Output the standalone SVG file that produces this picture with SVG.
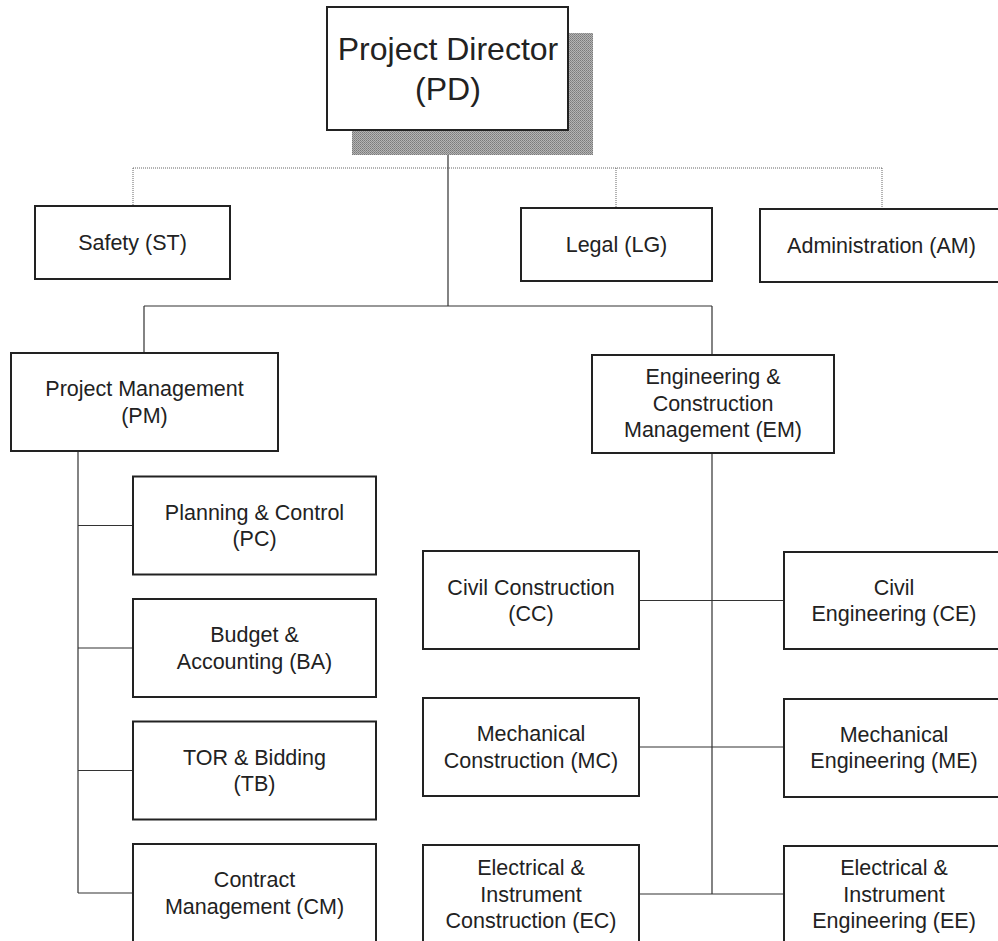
<svg xmlns="http://www.w3.org/2000/svg" width="998" height="941" viewBox="0 0 998 941">
<defs>
<pattern id="dots" width="2" height="2" patternUnits="userSpaceOnUse">
<rect width="2" height="2" fill="#b4b4b4"/>
<rect width="1" height="1" fill="#7a7a7a"/>
<rect x="1" y="1" width="1" height="1" fill="#8a8a8a"/>
</pattern>
</defs>
<style>
.box{fill:#fff;stroke:#222;stroke-width:2}
.t{font-family:"Liberation Sans",Arial,sans-serif;font-size:21.5px;fill:#222;text-anchor:middle}
.big{font-size:32px}
.c{fill:none;stroke:#333;stroke-width:1.2}
.d{fill:none;stroke:#666;stroke-width:1;stroke-dasharray:1 1}
</style>
<rect width="998" height="941" fill="#fff"/>
<g id="connectors">
<path class="d" d="M133 168H882M133 168V206M616 168V208M882 168V209"/>
<path class="c" d="M448 130V306M144 306H712M144 306V353M712 306V355"/>
<path class="c" d="M78 451V893M78 525.5H133M78 648H133M78 770.5H133M78 893H133"/>
<path class="c" d="M712 453V894M639 600.5H784M639 747H784M639 894H784"/>
</g>
<g id="PD">
<rect x="352" y="33" width="241" height="122" fill="url(#dots)"/>
<rect class="box" x="327" y="7" width="241" height="123"/>
<text class="t big" x="448" y="60">Project Director</text>
<text class="t big" x="448" y="100">(PD)</text>
</g>
<g id="ST">
<rect class="box" x="35" y="206" width="195" height="73"/>
<text class="t" x="132.5" y="250">Safety (ST)</text>
</g>
<g id="LG">
<rect class="box" x="521" y="208" width="191" height="73"/>
<text class="t" x="616.5" y="252">Legal (LG)</text>
</g>
<g id="AM">
<rect class="box" x="760" y="209" width="243" height="73"/>
<text class="t" x="881.5" y="253">Administration (AM)</text>
</g>
<g id="PM">
<rect class="box" x="11" y="353" width="267" height="98"/>
<text class="t" x="144.5" y="396">Project Management</text>
<text class="t" x="144.5" y="422.5">(PM)</text>
</g>
<g id="EM">
<rect class="box" x="592" y="355" width="242" height="98"/>
<text class="t" x="713" y="384">Engineering &amp;</text>
<text class="t" x="713" y="410.5">Construction</text>
<text class="t" x="713" y="437">Management (EM)</text>
</g>
<g id="PC">
<rect class="box" x="133" y="476.5" width="243" height="98"/>
<text class="t" x="254.5" y="519.5">Planning &amp; Control</text>
<text class="t" x="254.5" y="546">(PC)</text>
</g>
<g id="BA">
<rect class="box" x="133" y="599" width="243" height="98"/>
<text class="t" x="254.5" y="642">Budget &amp;</text>
<text class="t" x="254.5" y="668.5">Accounting (BA)</text>
</g>
<g id="TB">
<rect class="box" x="133" y="721.5" width="243" height="98"/>
<text class="t" x="254.5" y="764.5">TOR &amp; Bidding</text>
<text class="t" x="254.5" y="791">(TB)</text>
</g>
<g id="CM">
<rect class="box" x="133" y="844" width="243" height="98"/>
<text class="t" x="254.5" y="887">Contract</text>
<text class="t" x="254.5" y="913.5">Management (CM)</text>
</g>
<g id="CC">
<rect class="box" x="423" y="551" width="216" height="98"/>
<text class="t" x="531" y="594.5">Civil Construction</text>
<text class="t" x="531" y="621">(CC)</text>
</g>
<g id="CE">
<rect class="box" x="784" y="552" width="220" height="97"/>
<text class="t" x="894" y="594.5">Civil</text>
<text class="t" x="894" y="621">Engineering (CE)</text>
</g>
<g id="MC">
<rect class="box" x="423" y="698" width="216" height="98"/>
<text class="t" x="531" y="741">Mechanical</text>
<text class="t" x="531" y="767.5">Construction (MC)</text>
</g>
<g id="ME">
<rect class="box" x="784" y="699" width="220" height="98"/>
<text class="t" x="894" y="741.5">Mechanical</text>
<text class="t" x="894" y="768">Engineering (ME)</text>
</g>
<g id="EC">
<rect class="box" x="423" y="845" width="216" height="98"/>
<text class="t" x="531" y="875">Electrical &amp;</text>
<text class="t" x="531" y="901.5">Instrument</text>
<text class="t" x="531" y="928">Construction (EC)</text>
</g>
<g id="EE">
<rect class="box" x="784" y="846" width="220" height="98"/>
<text class="t" x="894" y="875">Electrical &amp;</text>
<text class="t" x="894" y="901.5">Instrument</text>
<text class="t" x="894" y="928">Engineering (EE)</text>
</g>
</svg>
